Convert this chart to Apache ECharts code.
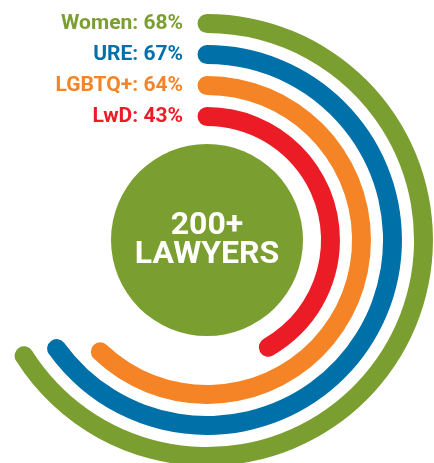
<!DOCTYPE html>
<html>
<head>
<meta charset="utf-8">
<script src="https://cdn.jsdelivr.net/npm/echarts@6/dist/echarts.min.js"></script>
<style>
  html, body { margin: 0; padding: 0; background: #fff; }
  #chart { width: 434px; height: 463px; }
</style>
</head>
<body>
<div id="chart"></div>
<script>
// Groups, inner ring first
const groups = ['LwD', 'LGBTQ+', 'URE', 'Women'];
const shares = [43, 64, 67, 68];
const ringColors = ['#ec1c27', '#f48425', '#0070a8', '#7b9e31'];
const centerLines = ['200+', 'LAWYERS'];
const centerColor = '#7b9e31';

const chart = echarts.init(document.getElementById('chart'));

const center = [207, 240];
const labelFont = { fontFamily: 'Roboto', fontWeight: 'bold', fontSize: 21 };

chart.setOption({
  animation: false,
  polar: { center: center, radius: [108, 232] },
  angleAxis: {
    type: 'value', min: 0, max: 103, startAngle: 90, clockwise: true,
    show: false
  },
  radiusAxis: {
    type: 'category',
    data: groups,
    axisLine: { show: false },
    axisTick: { show: false },
    splitLine: { show: false },
    axisLabel: Object.assign({
      show: true,
      interval: 0,
      hideOverlap: false,
      margin: 24,
      formatter: function (v, i) {
        return '{c' + i + '|' + v + ': ' + shares[i] + '%}';
      },
      rich: {
        c0: Object.assign({ color: ringColors[0] }, labelFont),
        c1: Object.assign({ color: ringColors[1] }, labelFont),
        c2: Object.assign({ color: ringColors[2] }, labelFont),
        c3: Object.assign({ color: ringColors[3] }, labelFont)
      }
    }, labelFont)
  },
  series: [
    {
      type: 'bar',
      coordinateSystem: 'polar',
      roundCap: true,
      barWidth: '61%',
      data: shares.map((v, i) => ({ value: v, itemStyle: { color: ringColors[i] } })),
      silent: true
    },
    {
      type: 'pie',
      center: center,
      radius: [0, 96],
      silent: true,
      itemStyle: { color: centerColor },
      label: {
        show: true,
        position: 'center',
        formatter: centerLines.join('\n'),
        color: '#fff',
        fontFamily: 'Roboto',
        fontWeight: 'bold',
        fontSize: 32,
        lineHeight: 29
      },
      labelLine: { show: false },
      data: [{ value: 1, name: '' }]
    }
  ]
});
</script>
</body>
</html>
